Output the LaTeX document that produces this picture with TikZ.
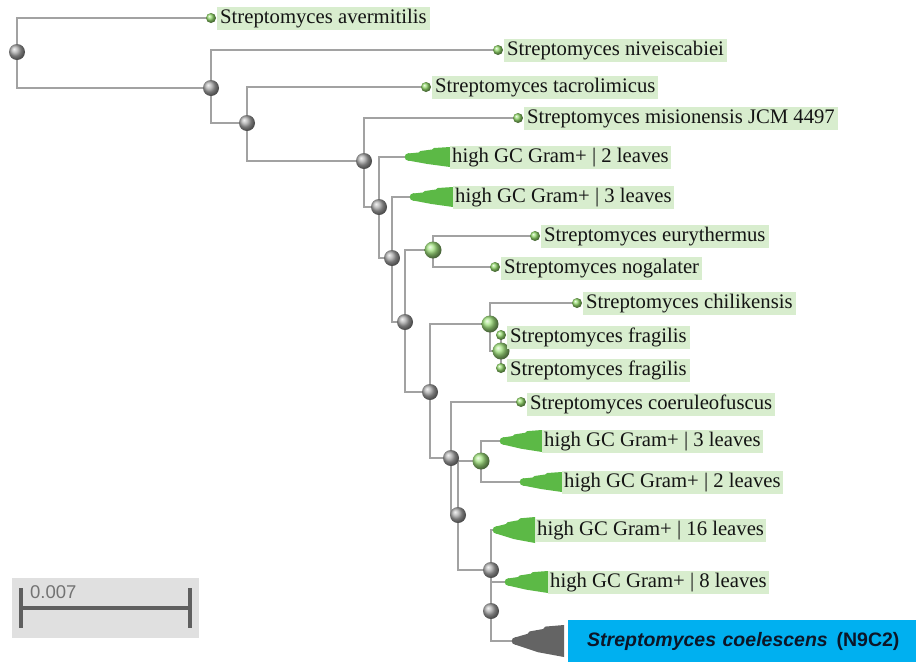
\documentclass[tikz,border=0pt]{standalone}
\usepackage{fontspec}
\setmainfont{Liberation Serif}
\newfontfamily\arialfont{Liberation Sans}
\usetikzlibrary{backgrounds,calc}
\definecolor{branchgray}{RGB}{162,162,162}
\definecolor{labgreen}{RGB}{216,237,206}
\definecolor{trigreen}{RGB}{92,185,70}
\definecolor{tridark}{RGB}{100,100,100}
\definecolor{leafgreen}{RGB}{145,215,105}
\definecolor{nodegreen}{RGB}{160,225,125}
\definecolor{nodegray}{RGB}{170,170,170}
\definecolor{hlblue}{RGB}{0,176,240}
\definecolor{navytext}{RGB}{12,22,40}
\definecolor{scalebg}{RGB}{224,224,224}
\definecolor{scalebar}{RGB}{95,95,95}
\definecolor{scaletext}{RGB}{115,115,115}
\tikzset{
 inode/.style={circle, minimum size=16pt, inner sep=0pt, shading=ball, ball color=nodegray},
 gnode/.style={circle, minimum size=17pt, inner sep=0pt, shading=ball, ball color=nodegreen},
 leafdot/.style={circle, minimum size=10pt, inner sep=0pt, shading=ball, ball color=leafgreen},
 br/.style={draw=branchgray, line width=1.6pt},
 lab/.style={anchor=west, fill=labgreen, inner xsep=3pt, inner ysep=1.5pt, text height=15pt, text depth=5pt, font=\fontsize{20.7}{24}\selectfont, text=black!92},
 cladelab/.style={lab, inner xsep=2pt},
 coellab/.style={anchor=west, fill=hlblue, minimum height=42pt, inner ysep=0pt, inner xsep=19pt, text width=329pt, align=left, text=navytext, font=\arialfont\bfseries\fontsize{19.5}{22}\selectfont},
}
% name, colour, tip x, right x, centre y, half height
\newcommand\cladetri[6]{%
  \fill[#2] ({#3+3},{#5-3.5}) -- ({#3+0.3*(#4-#3)},{#5-0.45*#6}) -- ({#3+0.3*(#4-#3)+2},{#5-0.6*#6})
    -- ({#3+0.6*(#4-#3)},{#5-0.75*#6}) -- ({#3+0.6*(#4-#3)+2},{#5-0.9*#6}) -- (#4,{#5-#6})
    -- (#4,{#5+#6}) -- ({#3+0.5*(#4-#3)},{#5+0.7*#6}) -- ({#3+3},{#5+3.5}) -- cycle;
  \fill[#2] ({#3+3.5},#5) circle[radius=3.8pt];
  \coordinate (#1) at (#3,#5);
  \coordinate (#1r) at (#4,#5);
}
\begin{document}
\begin{tikzpicture}[x=1pt,y=-1pt]
\begin{scope}[on background layer]
\fill[white] (0,0) rectangle (916,662);
\end{scope}
\useasboundingbox (0,0) rectangle (916,662);

% scale bar
\fill[scalebg] (12,578) rectangle (199,638);
\coordinate (sbl) at (21,608);
\coordinate (sbr) at (190,608);
\draw[scalebar, line width=3.5pt] (sbl) -- (sbr);
\draw[scalebar, line width=3.5pt] (21,588) -- (21,628);
\draw[scalebar, line width=3.5pt] (190,588) -- (190,628);
\node[anchor=west, inner sep=0pt, text=scaletext, font=\arialfont\fontsize{18.5}{20}\selectfont] (sbt) at (30,592) {0.007};

% collapsed clades
\cladetri{c2a}{trigreen}{405}{450}{157}{10}
\cladetri{c3a}{trigreen}{410}{453}{197}{10}
\cladetri{c3b}{trigreen}{500}{542}{441}{11}
\cladetri{c2b}{trigreen}{520}{562}{482}{10}
\cladetri{c16}{trigreen}{493}{535}{530}{13}
\cladetri{c8}{trigreen}{505}{548}{582}{11}
\cladetri{cS}{tridark}{512}{564}{641}{16}

% internal nodes
\node[inode] (n0) at (17,52) {};
\node[inode] (n1) at (211,88) {};
\node[inode] (n2) at (247,123) {};
\node[inode] (n3) at (364,161) {};
\node[inode] (n4) at (379,207) {};
\node[inode] (n5) at (392,258) {};
\node[inode] (n6) at (405,322) {};
\node[inode] (n7) at (430,392) {};
\node[inode] (n8) at (451,458) {};
\node[inode] (n9) at (458,515) {};
\node[inode] (n10) at (491,570) {};
\node[inode] (n11) at (491,611) {};
\node[gnode] (g1) at (433,250) {};
\node[gnode] (g2) at (490,324) {};
\node[gnode] (g3) at (501,351) {};
\node[gnode] (g4) at (481,461) {};

% leaves
\node[leafdot] (aver) at (211,18) {};
\node[leafdot] (nive) at (498,50) {};
\node[leafdot] (tacr) at (426,87) {};
\node[leafdot] (misi) at (518,118) {};
\node[leafdot] (eury) at (535,236) {};
\node[leafdot] (noga) at (495,267) {};
\node[leafdot] (chil) at (577,303) {};
\node[leafdot] (fraga) at (501,335) {};
\node[leafdot] (fragb) at (501,368) {};
\node[leafdot] (coer) at (521,402) {};

% leaf labels
\node[lab] (taver) at (217,18) {Streptomyces avermitilis};
\node[lab] (tnive) at (504,50) {Streptomyces niveiscabiei};
\node[lab] (ttacr) at (432,87) {Streptomyces tacrolimicus};
\node[lab] (tmisi) at (524,118) {Streptomyces misionensis JCM 4497};
\node[lab] (teury) at (541,236) {Streptomyces eurythermus};
\node[lab] (tnoga) at (501,268) {Streptomyces nogalater};
\node[lab] (tchil) at (583,303) {Streptomyces chilikensis};
\node[lab] (tfraga) at (507,337) {Streptomyces fragilis};
\node[lab] (tfragb) at (507,370) {Streptomyces fragilis};
\node[lab] (tcoer) at (527,404) {Streptomyces coeruleofuscus};

% clade labels
\node[cladelab] (tc2a) at (c2ar) {high GC Gram+ | 2 leaves};
\node[cladelab] (tc3a) at (c3ar) {high GC Gram+ | 3 leaves};
\node[cladelab] (tc3b) at (c3br) {high GC Gram+ | 3 leaves};
\node[cladelab] (tc2b) at (c2br) {high GC Gram+ | 2 leaves};
\node[cladelab] (tc16) at (c16r) {high GC Gram+ | 16 leaves};
\node[cladelab] (tc8) at (c8r) {high GC Gram+ | 8 leaves};
\node[coellab] (tcS) at (568,641) {{\itshape Streptomyces coelescens}\hspace{0.45em}(N9C2)};

% branches
\begin{scope}[on background layer]
\draw[br] (n0.center) |- (aver.center);
\draw[br] (n0.center) |- (n1.center);
\draw[br] (n1.center) |- (nive.center);
\draw[br] (n1.center) |- (n2.center);
\draw[br] (n2.center) |- (tacr.center);
\draw[br] (n2.center) |- (n3.center);
\draw[br] (n3.center) |- (misi.center);
\draw[br] (n3.center) |- (n4.center);
\draw[br] (n4.center) |- (c2a);
\draw[br] (n4.center) |- (n5.center);
\draw[br] (n5.center) |- (c3a);
\draw[br] (n5.center) |- (n6.center);
\draw[br] (n6.center) |- (g1.center);
\draw[br] (n6.center) |- (n7.center);
\draw[br] (g1.center) |- (eury.center);
\draw[br] (g1.center) |- (noga.center);
\draw[br] (n7.center) |- (g2.center);
\draw[br] (n7.center) |- (n8.center);
\draw[br] (g2.center) |- (chil.center);
\draw[br] (g2.center) |- (g3.center);
\draw[br] (g3.center) |- (fraga.center);
\draw[br] (g3.center) |- (fragb.center);
\draw[br] (n8.center) |- (coer.center);
\draw[br] (n8.center) |- (n9.center);
\draw[br] (n9.center) |- (g4.center);
\draw[br] (n9.center) |- (n10.center);
\draw[br] (g4.center) |- (c3b);
\draw[br] (g4.center) |- (c2b);
\draw[br] (n10.center) |- (c16);
\draw[br] (n10.center) |- (n11.center);
\draw[br] (n11.center) |- (c8);
\draw[br] (n11.center) |- (cS);
\end{scope}
\end{tikzpicture}
\end{document}
